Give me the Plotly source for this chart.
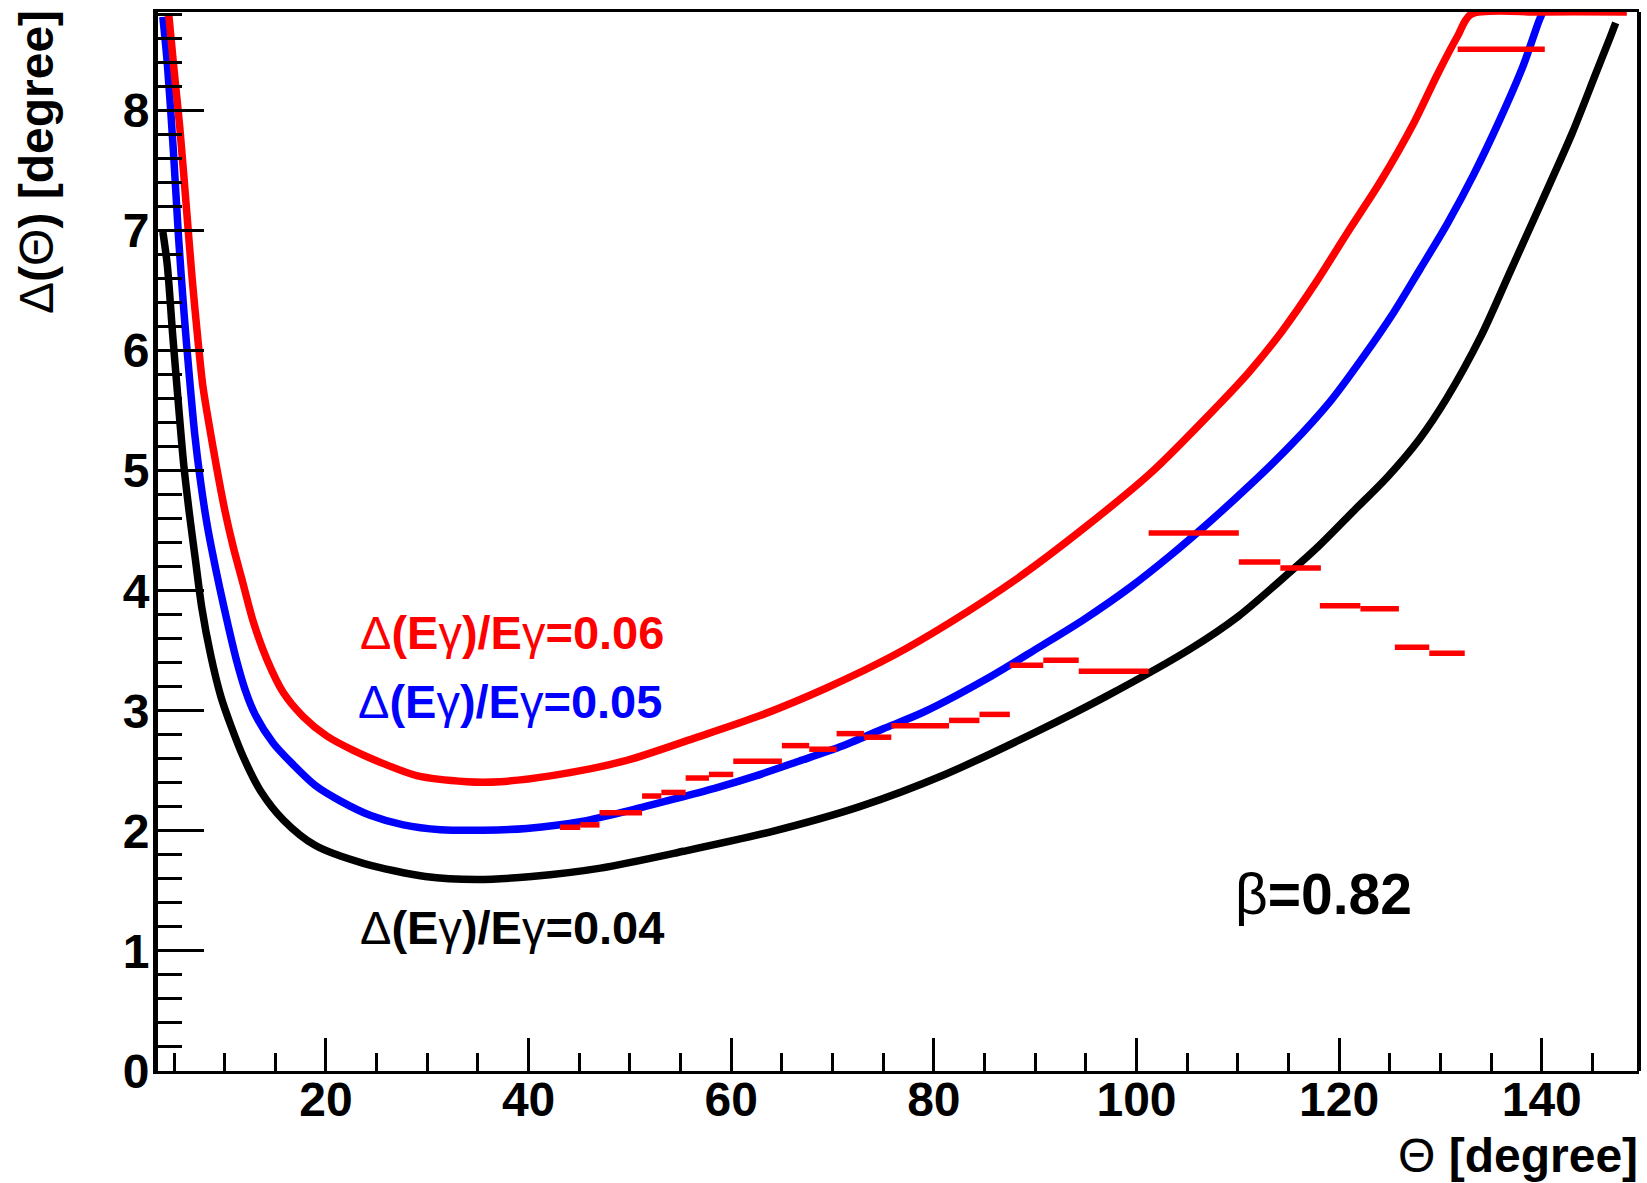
import plotly.graph_objects as go

# ---------------- data ----------------
theta_black = [3.9, 4.34, 4.87, 5.43, 5.96, 6.52, 7.11, 7.74, 8.63, 9.62,
               10.6, 11.92, 13.56, 15.8, 18.92, 23.7, 29.8, 34.9, 40.3, 47.1,
               55.3, 63.8, 72.6, 81.1, 90.0, 97.0, 105.4, 110.1, 114.0, 117.97,
               121.5, 124.8, 127.9, 130.6, 134.0, 136.9, 140.0, 143.0, 145.3, 146.8,
               147.3]
dtheta_black = [6.99, 6.71, 6.13, 5.56, 5.05, 4.64, 4.26, 3.86, 3.46, 3.12,
                2.88, 2.60, 2.33, 2.09, 1.88, 1.73, 1.62, 1.595, 1.62, 1.69,
                1.83, 1.99, 2.20, 2.47, 2.82, 3.12, 3.52, 3.79, 4.07, 4.37,
                4.67, 4.95, 5.26, 5.60, 6.12, 6.66, 7.24, 7.81, 8.30, 8.62,
                8.73]

theta_blue = [3.9, 4.35, 4.94, 5.45, 6.0, 6.5, 7.05, 7.57, 8.13, 8.69,
              9.52, 10.37, 11.2, 12.0, 13.0, 14.8, 16.78, 18.92, 21.4, 24.35,
              27.64, 31.3, 35.5, 39.8, 45.4, 50.0, 54.6, 58.6, 62.5, 66.5,
              70.75, 75.0, 79.0, 85.7, 90.2, 94.8, 99.4, 103.3, 107.3, 111.2,
              115.2, 119.15, 122.4, 125.4, 128.0, 130.7, 133.3, 135.9, 138.2, 139.7,
              140.05]
dtheta_blue = [8.78, 8.38, 7.66, 6.94, 6.30, 5.80, 5.30, 4.94, 4.62, 4.36,
               4.02, 3.70, 3.41, 3.18, 2.97, 2.73, 2.55, 2.38, 2.25, 2.13,
               2.05, 2.01, 2.005, 2.02, 2.08, 2.17, 2.27, 2.36, 2.46, 2.575,
               2.70, 2.85, 2.99, 3.29, 3.52, 3.76, 4.03, 4.29, 4.58, 4.88,
               5.21, 5.58, 5.95, 6.32, 6.68, 7.06, 7.47, 7.93, 8.38, 8.74,
               8.81]

theta_red = [4.48, 5.0, 5.57, 6.29, 6.79, 7.36, 7.84, 8.43, 9.22, 10.04,
             10.86, 11.72, 12.83, 14.16, 15.8, 17.77, 20.08, 22.7, 25.67, 28.96,
             33.9, 37.2, 42.3, 49.4, 56.3, 62.85, 69.4, 76.0, 81.5, 88.2,
             94.8, 101.4, 107.9, 111.1, 114.35, 117.65, 120.8, 124.1, 127.4, 129.7,
             131.7, 133.0, 140.0, 148.4]
dtheta_red = [8.80, 8.34, 7.86, 7.12, 6.60, 6.09, 5.71, 5.40, 5.02, 4.66,
              4.36, 4.09, 3.74, 3.43, 3.15, 2.95, 2.79, 2.67, 2.56, 2.46,
              2.41, 2.41, 2.46, 2.58, 2.77, 2.96, 3.19, 3.46, 3.73, 4.10,
              4.52, 4.98, 5.53, 5.82, 6.16, 6.56, 6.98, 7.41, 7.90, 8.30,
              8.62, 8.80, 8.82, 8.82]

# measured points: horizontal bars (bin start, bin end, value)
bin_start = [43.1, 45.1, 47.0, 51.2, 53.1, 55.5, 57.8, 60.2, 65.0, 67.7,
             70.4, 73.1, 75.8, 81.5, 84.5, 87.5, 90.8, 94.3, 101.2, 110.1,
             114.2, 118.1, 122.1, 125.5, 128.9, 131.7]
bin_end = [45.1, 47.0, 51.2, 53.1, 55.5, 57.8, 60.2, 65.0, 67.7, 70.4,
           73.1, 75.8, 81.5, 84.5, 87.5, 90.8, 94.3, 101.2, 110.1, 114.2,
           118.2, 122.1, 125.9, 128.9, 132.4, 140.3]
bin_value = [2.03, 2.05, 2.15, 2.29, 2.32, 2.44, 2.47, 2.58, 2.71, 2.68,
             2.81, 2.78, 2.875, 2.92, 2.97, 3.38, 3.42, 3.33, 4.48, 4.24,
             4.19, 3.875, 3.85, 3.53, 3.48, 8.51]

x_ticks = [20, 40, 60, 80, 100, 120, 140]
y_ticks = [0, 1, 2, 3, 4, 5, 6, 7, 8]
x_range = [3.42, 149.6]
y_range = [0, 8.82]

label_red = "Δ<b>(E</b>γ<b>)/E</b>γ<b>=0.06</b>"
label_blue = "Δ<b>(E</b>γ<b>)/E</b>γ<b>=0.05</b>"
label_black = "Δ<b>(E</b>γ<b>)/E</b>γ<b>=0.04</b>"
label_beta = "β<b>=0.82</b>"
title_x = "Θ<b> [degree]</b>"
title_y = "Δ<b>(</b>Θ<b>) [degree]</b>"

# ---------------- figure ----------------
W, H = 1647, 1183
ML, MR, MT, MB = 158, 8, 12, 112
PW, PH = W - ML - MR, H - MT - MB


def fx(px):
    return (px - ML) / PW


def fy(py):
    return (H - MB - py) / PH


def segments(starts, ends, vals):
    xs, ys = [], []
    for a, b, v in zip(starts, ends, vals):
        xs += [a, b, None]
        ys += [v, v, None]
    return xs, ys


FONT = "Liberation Sans, Arial, Helvetica, sans-serif"
CURVE_W = 7.5

fig = go.Figure()
fig.add_trace(go.Scatter(x=theta_black, y=dtheta_black, mode="lines",
                         line=dict(color="black", width=CURVE_W, shape="spline", smoothing=0.8),
                         hoverinfo="skip"))
fig.add_trace(go.Scatter(x=theta_blue, y=dtheta_blue, mode="lines",
                         line=dict(color="#0000ff", width=CURVE_W, shape="spline", smoothing=0.8),
                         hoverinfo="skip"))
fig.add_trace(go.Scatter(x=theta_red, y=dtheta_red, mode="lines",
                         line=dict(color="#ff0000", width=CURVE_W, shape="spline", smoothing=0.8),
                         hoverinfo="skip"))
bx, by = segments(bin_start, bin_end, bin_value)
fig.add_trace(go.Scatter(x=bx, y=by, mode="lines",
                         line=dict(color="#ff0000", width=5.5),
                         connectgaps=False, hoverinfo="skip"))

tickfont = dict(family=FONT, size=48, color="black", weight="bold")

fig.update_xaxes(range=x_range, tickvals=x_ticks, ticktext=[str(v) for v in x_ticks],
                 ticks="inside", ticklen=33, tickwidth=3, tickcolor="black",
                 ticklabelstandoff=-16,
                 showline=True, linewidth=3, linecolor="black", mirror=True,
                 showgrid=False, zeroline=False, tickfont=tickfont,
                 minor=dict(ticks="inside", ticklen=18, tickwidth=3, tickcolor="black",
                            tick0=0, dtick=5, showgrid=False))
fig.update_yaxes(range=y_range, tickvals=y_ticks, ticktext=[str(v) for v in y_ticks],
                 ticks="inside", ticklen=46, tickwidth=3, tickcolor="black",
                 ticklabelstandoff=-6,
                 showline=True, linewidth=5, linecolor="black", mirror=False,
                 showgrid=False, zeroline=False, tickfont=tickfont,
                 minor=dict(ticks="inside", ticklen=24, tickwidth=3, tickcolor="black",
                            tick0=0, dtick=0.2, showgrid=False))

annotations = [
    dict(text=label_red, x=fx(359), y=fy(632), xanchor="left", yanchor="middle",
         font=dict(family=FONT, size=47, color="#ff0000")),
    dict(text=label_blue, x=fx(356.7), y=fy(701), xanchor="left", yanchor="middle",
         font=dict(family=FONT, size=47, color="#0000ff")),
    dict(text=label_black, x=fx(359), y=fy(927), xanchor="left", yanchor="middle",
         font=dict(family=FONT, size=47, color="black")),
    dict(text=label_beta, x=fx(1234), y=fy(894), xanchor="left", yanchor="middle",
         font=dict(family=FONT, size=57, color="black")),
    dict(text=title_x, x=1.0, y=fy(1155), xanchor="right", yanchor="middle",
         font=dict(family=FONT, size=48, color="black")),
    dict(text=title_y, x=fx(36), y=fy(9), xanchor="center", yanchor="top", textangle=-90,
         font=dict(family=FONT, size=48, color="black")),
]
for a in annotations:
    a.update(xref="paper", yref="paper", showarrow=False, borderpad=0)

fig.update_layout(
    width=W, height=H,
    margin=dict(l=ML, r=MR, t=MT, b=MB, pad=0),
    plot_bgcolor="white", paper_bgcolor="white",
    showlegend=False,
    annotations=annotations,
    shapes=[dict(type="line", xref="paper", yref="paper", x0=1, x1=1, y0=0, y1=1,
                 line=dict(color="black", width=4))],
)

fig.write_html("out.html")
